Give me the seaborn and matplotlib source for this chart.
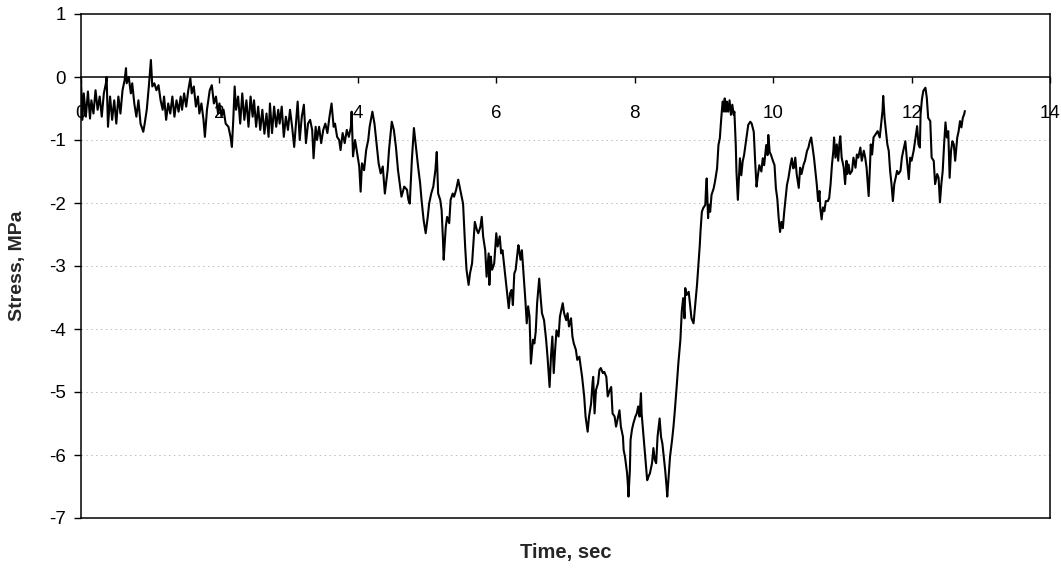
import matplotlib
matplotlib.use("Agg")
import matplotlib.pyplot as plt
import seaborn as sns
import pandas as pd

# Recorded stress trace
time_s = [
    0.00, 0.02, 0.04, 0.07, 0.10, 0.13, 0.15, 0.18, 0.21, 0.24, 0.27, 0.30, 0.33, 0.36, 0.37,
    0.39, 0.42, 0.45, 0.48, 0.51, 0.54, 0.57, 0.60, 0.63, 0.65, 0.66, 0.69, 0.72, 0.74, 0.77,
    0.80, 0.83, 0.86, 0.90, 0.92, 0.95, 0.98, 1.01, 1.03, 1.06, 1.09, 1.12, 1.15, 1.18, 1.20,
    1.23, 1.26, 1.29, 1.32, 1.35, 1.38, 1.41, 1.44, 1.46, 1.49, 1.52, 1.55, 1.58, 1.60, 1.63,
    1.66, 1.69, 1.71, 1.74, 1.77, 1.79, 1.82, 1.86, 1.89, 1.92, 1.95, 1.98, 2.00, 2.03, 2.06,
    2.09, 2.13, 2.16, 2.18, 2.20, 2.22, 2.24, 2.27, 2.30, 2.33, 2.36, 2.39, 2.42, 2.45, 2.48,
    2.50, 2.53, 2.56, 2.59, 2.62, 2.65, 2.68, 2.71,
    2.73, 2.76, 2.79, 2.82, 2.85, 2.87, 2.90, 2.93, 2.96, 2.99, 3.02, 3.05, 3.08, 3.11, 3.13,
    3.16, 3.19, 3.22, 3.25, 3.28, 3.31, 3.34, 3.36, 3.39, 3.41, 3.44, 3.47, 3.50, 3.53, 3.56,
    3.59, 3.62, 3.65, 3.67, 3.70, 3.73, 3.75, 3.78, 3.81, 3.84, 3.87, 3.90, 3.91, 3.93, 3.96,
    3.99, 4.02, 4.04, 4.06, 4.09, 4.12, 4.15, 4.17, 4.21, 4.24, 4.27, 4.30, 4.33, 4.36, 4.39,
    4.43, 4.45, 4.49, 4.52, 4.55, 4.58, 4.61, 4.63, 4.67, 4.71, 4.73, 4.75, 4.78, 4.81, 4.84,
    4.87, 4.90, 4.92, 4.95, 4.98, 5.01, 5.03, 5.06, 5.09, 5.12, 5.14, 5.16, 5.19, 5.21, 5.23,
    5.24, 5.27, 5.29, 5.32, 5.34, 5.37, 5.39, 5.42, 5.45, 5.49,
    5.52, 5.55, 5.57, 5.60, 5.62, 5.65, 5.67, 5.69, 5.72, 5.74, 5.77, 5.79, 5.81, 5.84, 5.86,
    5.89, 5.90, 5.92, 5.94, 5.97, 6.00, 6.02, 6.05, 6.07, 6.09, 6.12, 6.14, 6.18, 6.20, 6.22,
    6.24, 6.26, 6.28, 6.31, 6.32, 6.35, 6.37, 6.39, 6.42, 6.44, 6.46, 6.48, 6.50, 6.53, 6.55,
    6.57, 6.59, 6.62, 6.64, 6.66, 6.69, 6.72, 6.74, 6.77, 6.79, 6.81, 6.83, 6.85, 6.87, 6.90,
    6.92, 6.95, 6.96, 6.98, 7.01, 7.03, 7.05, 7.08, 7.10, 7.12, 7.15, 7.17, 7.20, 7.22, 7.24,
    7.27, 7.29, 7.32, 7.34, 7.37, 7.39, 7.40, 7.42, 7.44, 7.47, 7.49, 7.51, 7.54, 7.56, 7.59,
    7.61, 7.64, 7.66, 7.68, 7.71, 7.73, 7.76, 7.78, 7.80, 7.83,
    7.84, 7.86, 7.89, 7.90, 7.91, 7.93, 7.94, 7.96, 7.98, 8.01, 8.03, 8.05, 8.07, 8.09, 8.10,
    8.12, 8.14, 8.16, 8.18, 8.20, 8.22, 8.25, 8.27, 8.29, 8.31, 8.33, 8.36, 8.38, 8.40, 8.42,
    8.44, 8.46, 8.47, 8.49, 8.51, 8.54, 8.56, 8.58, 8.61, 8.63, 8.66,
    8.68, 8.70, 8.72, 8.73, 8.75, 8.78, 8.80, 8.82, 8.85, 8.87, 8.90, 8.92, 8.94, 8.95, 8.97,
    8.99, 9.02, 9.03, 9.04, 9.06, 9.07, 9.09, 9.11, 9.14, 9.16, 9.19, 9.21, 9.23, 9.25, 9.27,
    9.29, 9.30, 9.32, 9.33, 9.35, 9.37, 9.39, 9.41, 9.43, 9.44, 9.46, 9.47, 9.49, 9.51, 9.52,
    9.54, 9.56, 9.58, 9.60, 9.62, 9.64, 9.67, 9.69, 9.72, 9.74, 9.76, 9.78, 9.80, 9.83, 9.85,
    9.87, 9.90, 9.92, 9.93, 9.95, 9.97, 10.00, 10.02, 10.04, 10.06, 10.08, 10.10, 10.12, 10.14,
    10.16, 10.18, 10.20, 10.22, 10.25, 10.27, 10.29,
    10.30, 10.32, 10.34, 10.37, 10.39, 10.41, 10.44, 10.46, 10.49, 10.51, 10.53, 10.55, 10.57,
    10.59, 10.61, 10.63, 10.65, 10.67, 10.68, 10.70, 10.72, 10.74, 10.76, 10.79, 10.81, 10.83,
    10.85, 10.87, 10.88, 10.90, 10.92, 10.94, 10.96, 10.97, 10.99, 11.02, 11.04, 11.06, 11.07,
    11.09, 11.11, 11.14, 11.16, 11.19, 11.21, 11.23, 11.26, 11.28, 11.31, 11.33, 11.35, 11.38,
    11.40, 11.41, 11.43, 11.45, 11.48, 11.51, 11.54, 11.56, 11.58, 11.59, 11.61, 11.63, 11.65,
    11.67, 11.69, 11.71, 11.73, 11.75, 11.77, 11.79, 11.81, 11.84, 11.86, 11.88, 11.91, 11.93,
    11.96, 11.98, 12.00, 12.03, 12.05, 12.08, 12.10, 12.12, 12.13, 12.15, 12.17, 12.20, 12.22,
    12.24, 12.27, 12.29, 12.32, 12.34, 12.37, 12.39, 12.41, 12.43, 12.45, 12.47, 12.49, 12.51,
    12.53, 12.55, 12.57, 12.59, 12.61, 12.63, 12.65, 12.66, 12.68, 12.70, 12.72, 12.74, 12.76,
    12.77,
]

stress_mpa = [
    -0.05, -0.68, -0.26, -0.63, -0.23, -0.66, -0.37, -0.58, -0.21, -0.52, -0.31, -0.63, -0.26, -0.10, 0.00,
    -0.79, -0.31, -0.68, -0.37, -0.74, -0.31, -0.58, -0.21, -0.05, 0.14, -0.10, 0.00, -0.26, -0.10, -0.42,
    -0.63, -0.37, -0.74, -0.87, -0.74, -0.52, -0.15, 0.27, -0.15, -0.10, -0.21, -0.13, -0.37, -0.52, -0.31,
    -0.68, -0.42, -0.58, -0.31, -0.63, -0.37, -0.55, -0.31, -0.52, -0.26, -0.47, -0.21, -0.02, -0.26, -0.15,
    -0.47, -0.31, -0.58, -0.42, -0.68, -0.95, -0.52, -0.21, -0.13, -0.42, -0.31, -0.58, -0.42, -0.63, -0.52,
    -0.74, -0.79, -0.95, -1.11, -0.68, -0.15, -0.52, -0.31, -0.74, -0.26, -0.68, -0.37, -0.79, -0.31, -0.63,
    -0.37, -0.79, -0.47, -0.84, -0.52, -0.90, -0.58, -0.95,
    -0.42, -0.89, -0.47, -0.79, -0.52, -0.74, -0.47, -0.95, -0.63, -0.84, -0.52, -0.79, -1.11, -0.68, -0.39,
    -1.00, -0.63, -0.44, -1.05, -0.74, -0.68, -0.84, -1.29, -0.79, -1.00, -0.79, -1.05, -0.84, -0.74, -0.89,
    -0.63, -0.42, -0.79, -0.74, -0.95, -1.00, -1.16, -0.89, -1.05, -0.84, -0.95, -0.79, -0.55, -1.26, -1.00,
    -1.21, -1.42, -1.82, -1.37, -1.48, -1.16, -1.00, -0.79, -0.55, -0.74, -1.05, -1.37, -1.53, -1.42, -1.85,
    -1.48, -1.16, -0.71, -0.84, -1.11, -1.48, -1.74, -1.90, -1.74, -1.79, -1.95, -2.01, -1.32, -0.81, -1.11,
    -1.42, -1.69, -1.95, -2.27, -2.48, -2.22, -2.01, -1.85, -1.74, -1.48, -1.19, -1.85, -1.95, -2.11, -2.59,
    -2.90, -2.38, -2.22, -2.32, -1.95, -1.85, -1.90, -1.79, -1.63, -1.85,
    -2.01, -2.69, -3.06, -3.30, -3.12, -2.96, -2.64, -2.30, -2.43, -2.48, -2.38, -2.22, -2.53, -2.75, -3.17,
    -2.80, -3.30, -2.85, -3.06, -2.96, -2.48, -2.69, -2.53, -2.80, -2.75, -3.06, -3.27, -3.67, -3.43, -3.38,
    -3.62, -3.12, -3.06, -2.75, -2.67, -2.90, -2.75, -3.06, -3.54, -3.91, -3.64, -3.80, -4.55, -4.17, -4.23,
    -4.04, -3.59, -3.20, -3.49, -3.75, -3.86, -4.17, -4.44, -4.92, -4.44, -4.12, -4.70, -4.33, -4.02, -4.12,
    -3.80, -3.64, -3.59, -3.75, -3.86, -3.75, -3.96, -3.83, -4.12, -4.23, -4.33, -4.49, -4.44, -4.60, -4.76,
    -5.07, -5.39, -5.63, -5.39, -5.18, -4.86, -4.76, -5.34, -4.97, -4.86, -4.65, -4.62, -4.70, -4.68, -4.76,
    -5.07, -4.97, -4.92, -5.34, -5.39, -5.55, -5.39, -5.29, -5.55, -5.71,
    -5.92, -6.03, -6.29, -6.45, -6.66, -6.24, -5.76, -5.60, -5.50, -5.39, -5.34, -5.23, -5.39, -5.02, -5.34,
    -5.60, -5.87, -6.13, -6.40, -6.34, -6.29, -6.13, -5.89, -6.08, -6.13, -5.71, -5.42, -5.71, -5.82, -6.03,
    -6.24, -6.50, -6.66, -6.34, -6.03, -5.76, -5.55, -5.29, -4.86, -4.55, -4.17,
    -3.72, -3.51, -3.83, -3.35, -3.46, -3.41, -3.62, -3.83, -3.91, -3.67, -3.30, -2.98, -2.67, -2.46, -2.14,
    -2.08, -2.03, -1.77, -1.61, -2.24, -2.03, -2.14, -1.87, -1.77, -1.66, -1.45, -1.08, -0.97, -0.66, -0.39,
    -0.55, -0.34, -0.55, -0.39, -0.55, -0.37, -0.60, -0.44, -0.60, -0.55, -1.08, -1.50, -1.95, -1.50, -1.29,
    -1.56, -1.34, -1.24, -1.08, -0.92, -0.76, -0.71, -0.74, -0.87, -1.34, -1.74, -1.56, -1.40, -1.50, -1.29,
    -1.40, -1.08, -1.24, -0.92, -1.19, -1.24, -1.34, -1.40, -1.77, -1.93, -2.24, -2.46, -2.30, -2.40,
    -2.14, -1.93, -1.71, -1.61, -1.40, -1.29, -1.45,
    -1.44, -1.28, -1.54, -1.76, -1.44, -1.54, -1.39, -1.33, -1.17, -1.12, -1.02, -0.96, -1.12,
    -1.28, -1.49, -1.70, -1.97, -1.81, -2.07, -2.26, -2.07, -2.13, -1.97, -1.97, -1.92, -1.70,
    -1.39, -1.17, -0.96, -1.28, -1.07, -1.33, -1.02, -0.94, -1.28, -1.44, -1.70, -1.33, -1.54,
    -1.39, -1.54, -1.49, -1.28, -1.44, -1.23, -1.28, -1.12, -1.33, -1.17, -1.28, -1.44, -1.89,
    -1.39, -1.07, -1.23, -0.96, -0.91, -0.86, -0.96, -0.75, -0.54, -0.30, -0.65, -0.86, -1.07,
    -1.17, -1.49, -1.70, -1.97, -1.70, -1.60, -1.49, -1.54, -1.49, -1.28, -1.17, -1.02, -1.28,
    -1.62, -1.28, -1.33, -1.17, -1.02, -0.78, -1.07, -1.12, -0.59, -0.35, -0.22, -0.17, -0.33,
    -0.65, -0.70, -1.28, -1.33, -1.70, -1.54, -1.60, -1.99, -1.70, -1.49, -1.07, -0.72, -0.96,
    -0.86, -1.60, -1.17, -1.02, -1.07, -1.33, -1.07, -0.96, -0.86, -0.70, -0.80, -0.65, -0.59,
    -0.54,
]

x_ticks = [0, 2, 4, 6, 8, 10, 12, 14]
y_ticks = [-7, -6, -5, -4, -3, -2, -1, 0, 1]
grid_levels = [-6, -5, -4, -3, -2, -1]

sns.set_style("white")
plt.rcParams["font.family"] = ["Liberation Sans", "DejaVu Sans"]

df = pd.DataFrame({"Time, sec": time_s, "Stress, MPa": stress_mpa})

fig = plt.figure(figsize=(10.61, 5.71), dpi=100)
ax = fig.add_axes([81 / 1061, 53 / 571, 969 / 1061, 504 / 571])

# faint dotted horizontal gridlines
for lvl in grid_levels:
    ax.axhline(lvl, color="#bdbdbd", lw=0.7, ls=(0, (1.5, 3.5)), zorder=0)

sns.lineplot(data=df, x="Time, sec", y="Stress, MPa", ax=ax, color="black",
             lw=1.5, estimator=None, sort=False, zorder=3)

ax.set_xlim(0, 14)
ax.set_ylim(-7, 1)
ax.set_yticks(y_ticks)
ax.set_yticklabels([str(v) for v in y_ticks])
ax.tick_params(axis="y", direction="out", length=5, width=1, pad=6,
               labelsize=13.5, colors="black", left=True)
ax.tick_params(axis="x", bottom=False, labelbottom=False)

for sp in ax.spines.values():
    sp.set_visible(True)
    sp.set_color("black")
    sp.set_linewidth(1.1)

# time axis crossing at stress = 0
zero_frac = (0 - (-7)) / (1 - (-7))
sec = ax.secondary_xaxis(zero_frac)
sec.set_alignment("bottom")
sec.set_xticks(x_ticks)
sec.set_xticklabels([str(v) for v in x_ticks])
sec.tick_params(axis="x", direction="out", length=4, width=1, pad=16,
                labelsize=13.5, colors="black")
sec.spines["bottom"].set_color("black")
sec.spines["bottom"].set_linewidth(1.1)

ax.set_xlabel("Time, sec", fontsize=14.5, fontweight="bold",
              family=["Liberation Sans Narrow", "Liberation Sans", "DejaVu Sans"])
ax.xaxis.set_label_coords(0.5, -0.05)
ax.set_ylabel("Stress, MPa", fontsize=14, fontweight="bold")
ax.yaxis.set_label_coords(-0.057, 0.5)

fig.savefig("out.png", dpi=100, facecolor="white")
